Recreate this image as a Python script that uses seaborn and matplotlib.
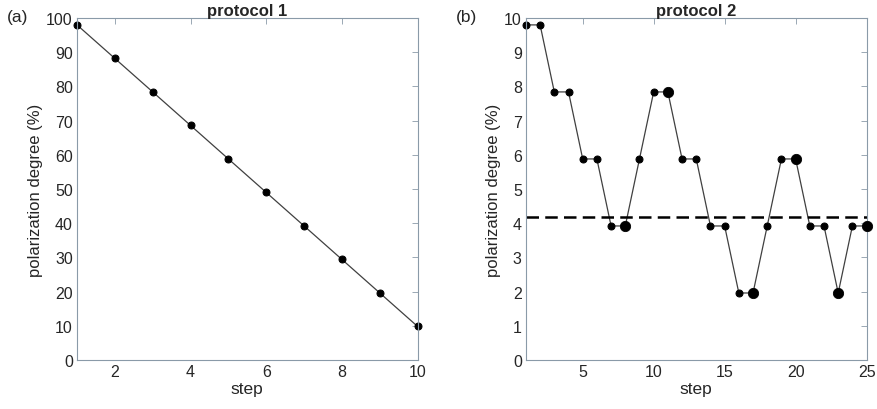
import pandas as pd
import matplotlib
matplotlib.use('Agg')
import matplotlib.pyplot as plt
import seaborn as sns

# Data
steps1 = [1, 2, 3, 4, 5, 6, 7, 8, 9, 10]
pol1 = [98.0, 88.2, 78.4, 68.6, 58.8, 49.0, 39.2, 29.4, 19.6, 9.8]

steps2 = list(range(1, 26))
pol2 = [9.8, 9.8, 7.84, 7.84, 5.88, 5.88, 3.92, 3.92, 5.88, 7.84,
        7.84, 5.88, 5.88, 3.92, 3.92, 1.96, 1.96, 3.92, 5.88, 5.88,
        3.92, 3.92, 1.96, 3.92, 3.92]
big_steps = [8, 11, 17, 20, 23, 25]
threshold = 4.18

sns.set_style('white')
plt.rcParams['font.family'] = ['Liberation Sans', 'DejaVu Sans']

df1 = pd.DataFrame({'step': steps1, 'pol': pol1})
df2 = pd.DataFrame({'step': steps2, 'pol': pol2})
df_big = df2[df2['step'].isin(big_steps)]

fig = plt.figure(figsize=(8.78, 4.10), dpi=100)
ax1 = fig.add_axes([0.0877, 0.1195, 0.388, 0.834])
ax2 = fig.add_axes([0.599, 0.1195, 0.388, 0.834])

edge = '#8a9aa8'
txt = '#262626'

# protocol 1
sns.lineplot(data=df1, x='step', y='pol', ax=ax1, color='#404040', linewidth=0.9,
             marker='o', markersize=5, markerfacecolor='black', markeredgecolor='black')
ax1.set_xlim(1, 10)
ax1.set_ylim(0, 100)
ax1.set_xticks([2, 4, 6, 8, 10])
ax1.set_yticks(range(0, 101, 10))
ax1.set_title('protocol 1', fontsize=12, fontweight='bold', pad=2)

# protocol 2
sns.lineplot(data=df2, x='step', y='pol', ax=ax2, color='#404040', linewidth=0.9,
             marker='o', markersize=5, markerfacecolor='black', markeredgecolor='black')
sns.scatterplot(data=df_big, x='step', y='pol', ax=ax2, color='black', s=55,
                edgecolor='black', zorder=5, clip_on=False)
ax2.axhline(threshold, color='black', linestyle=(0, (5, 2.5)), linewidth=1.8)
ax2.set_xlim(1, 25)
ax2.set_ylim(0, 10)
ax2.set_xticks([5, 10, 15, 20, 25])
ax2.set_yticks(range(0, 11))
ax2.set_title('protocol 2', fontsize=12, fontweight='bold', pad=2)

for ax in (ax1, ax2):
    ax.set_xlabel('step', fontsize=12.5, color=txt, labelpad=1)
    ax.set_ylabel('polarization degree (%)', fontsize=12, color=txt, labelpad=2)
    ax.tick_params(direction='in', top=True, right=True, length=4, width=0.6,
                   color=edge, labelsize=11.5, labelcolor=txt, pad=3)
    for sp in ax.spines.values():
        sp.set_color(edge)
        sp.set_linewidth(0.8)
    for line in ax.lines:
        line.set_clip_on(False)

fig.text(0.008, 0.975, '(a)', fontsize=12.5, color=txt, va='top')
fig.text(0.519, 0.975, '(b)', fontsize=12.5, color=txt, va='top')

fig.savefig('out.png', dpi=100)
